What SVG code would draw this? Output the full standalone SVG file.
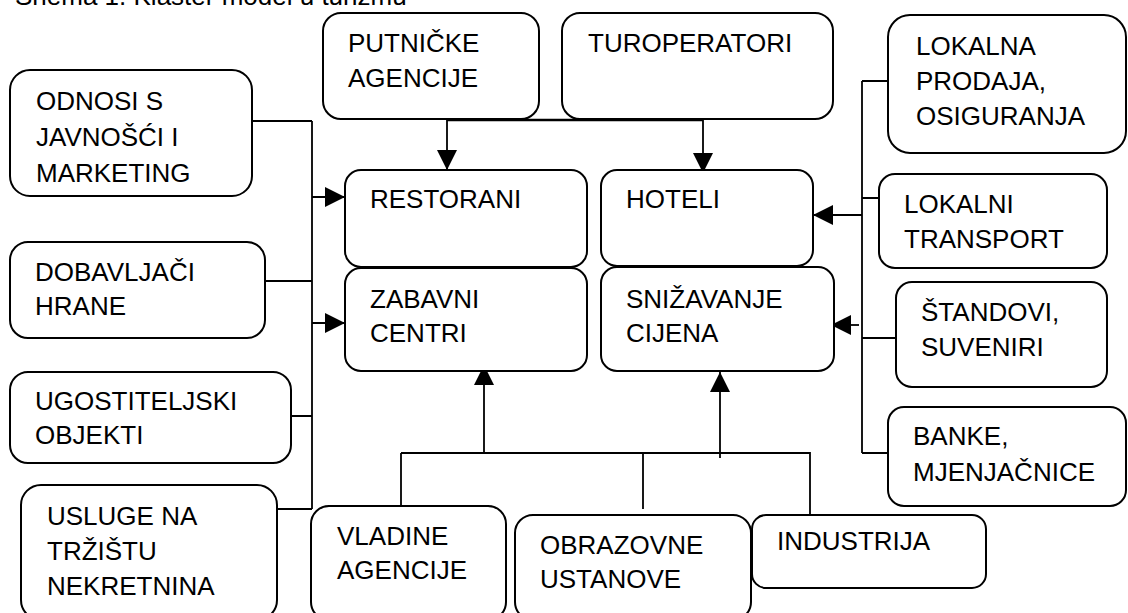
<svg xmlns="http://www.w3.org/2000/svg" width="1128" height="613" viewBox="0 0 1128 613">
<defs>
<marker id="ah" markerUnits="userSpaceOnUse" markerWidth="20" markerHeight="20" refX="20" refY="10" orient="auto">
<path d="M0,0 L20,10 L0,20 Z" fill="#000"/>
</marker>
<style>
.b{fill:#fff;stroke:#000;stroke-width:2}
.t{font-family:"Liberation Sans",Arial,sans-serif;font-size:26px;fill:#000}
.c{fill:none;stroke:#000;stroke-width:1.8}
.a{fill:none;stroke:#000;stroke-width:1.8;marker-end:url(#ah)}
</style>
</defs>
<rect width="1128" height="613" fill="#fff"/>
<text class="t" x="15" y="5">Shema 1. Klaster model u turizmu</text>

<g id="connectors">
<path class="c" d="M252,121 H312 M312,121 V509 M265,281 H312 M291,416 H312 M277,509 H312"/>
<path class="a" d="M312,197 H345"/>
<path class="a" d="M312,323 H345"/>
<path class="c" d="M447,120 H703" style="stroke-width:2.6"/>
<path class="a" d="M447,92 V170"/>
<path class="a" d="M703,92 V173"/>
<path class="c" d="M862,81 V453 M862,81 H888 M862,198 H879 M862,338 H896 M862,453 H888"/>
<path class="a" d="M862,215 H813"/>
<path class="a" d="M859,325 H831"/>
<path class="c" d="M401,453 H810 M401,453 V506 M643,452 V509 M810,452 V515"/>
<path class="a" d="M484,453 V365"/>
<path class="a" d="M720,458 V372"/>
</g>

<g id="odnosi"><rect class="b" x="10" y="70" width="242" height="126" rx="20"/>
<text class="t" x="36" y="110">ODNOSI S</text><text class="t" x="36" y="146">JAVNOŠĆI I</text><text class="t" x="36" y="182">MARKETING</text></g>
<g id="dobavljaci"><rect class="b" x="10" y="242" width="255" height="96" rx="18"/>
<text class="t" x="35" y="281">DOBAVLJAČI</text><text class="t" x="35" y="315">HRANE</text></g>
<g id="ugostiteljski"><rect class="b" x="10" y="372" width="281" height="91" rx="18"/>
<text class="t" x="35" y="410">UGOSTITELJSKI</text><text class="t" x="35" y="444">OBJEKTI</text></g>
<g id="usluge"><rect class="b" x="21" y="485" width="256" height="135" rx="20"/>
<text class="t" x="47" y="525">USLUGE NA</text><text class="t" x="47" y="560">TRŽIŠTU</text><text class="t" x="47" y="595">NEKRETNINA</text></g>

<g id="putnicke"><rect class="b" x="323" y="13" width="216" height="106" rx="18"/>
<text class="t" x="348" y="52">PUTNIČKE</text><text class="t" x="348" y="87">AGENCIJE</text></g>
<g id="turoperatori"><rect class="b" x="562" y="13" width="271" height="106" rx="18"/>
<text class="t" x="588" y="52">TUROPERATORI</text></g>

<g id="restorani"><rect class="b" x="345" y="170" width="242" height="97" rx="16"/>
<text class="t" x="370" y="208">RESTORANI</text></g>
<g id="hoteli"><rect class="b" x="601" y="170" width="212" height="96" rx="16"/>
<text class="t" x="626" y="208">HOTELI</text></g>
<g id="zabavni"><rect class="b" x="345" y="268" width="242" height="103" rx="16"/>
<text class="t" x="370" y="308">ZABAVNI</text><text class="t" x="370" y="342">CENTRI</text></g>
<g id="snizavanje"><rect class="b" x="601" y="267" width="233" height="104" rx="16"/>
<text class="t" x="626" y="308">SNIŽAVANJE</text><text class="t" x="626" y="342">CIJENA</text></g>

<g id="lokalna"><rect class="b" x="888" y="15" width="238" height="138" rx="22"/>
<text class="t" x="916" y="55">LOKALNA</text><text class="t" x="916" y="90">PRODAJA,</text><text class="t" x="916" y="125">OSIGURANJA</text></g>
<g id="lokalni"><rect class="b" x="879" y="174" width="228" height="94" rx="16"/>
<text class="t" x="904" y="213">LOKALNI</text><text class="t" x="904" y="248">TRANSPORT</text></g>
<g id="standovi"><rect class="b" x="896" y="282" width="211" height="105" rx="16"/>
<text class="t" x="921" y="321">ŠTANDOVI,</text><text class="t" x="921" y="356">SUVENIRI</text></g>
<g id="banke"><rect class="b" x="888" y="407" width="238" height="99" rx="16"/>
<text class="t" x="913" y="445">BANKE,</text><text class="t" x="913" y="481">MJENJAČNICE</text></g>

<g id="vladine"><rect class="b" x="311" y="506" width="195" height="114" rx="18"/>
<text class="t" x="337" y="545">VLADINE</text><text class="t" x="337" y="579">AGENCIJE</text></g>
<g id="obrazovne"><rect class="b" x="515" y="515" width="236" height="105" rx="18"/>
<text class="t" x="540" y="554">OBRAZOVNE</text><text class="t" x="540" y="588">USTANOVE</text></g>
<g id="industrija"><rect class="b" x="752" y="515" width="234" height="73" rx="14"/>
<text class="t" x="777" y="550">INDUSTRIJA</text></g>
</svg>
